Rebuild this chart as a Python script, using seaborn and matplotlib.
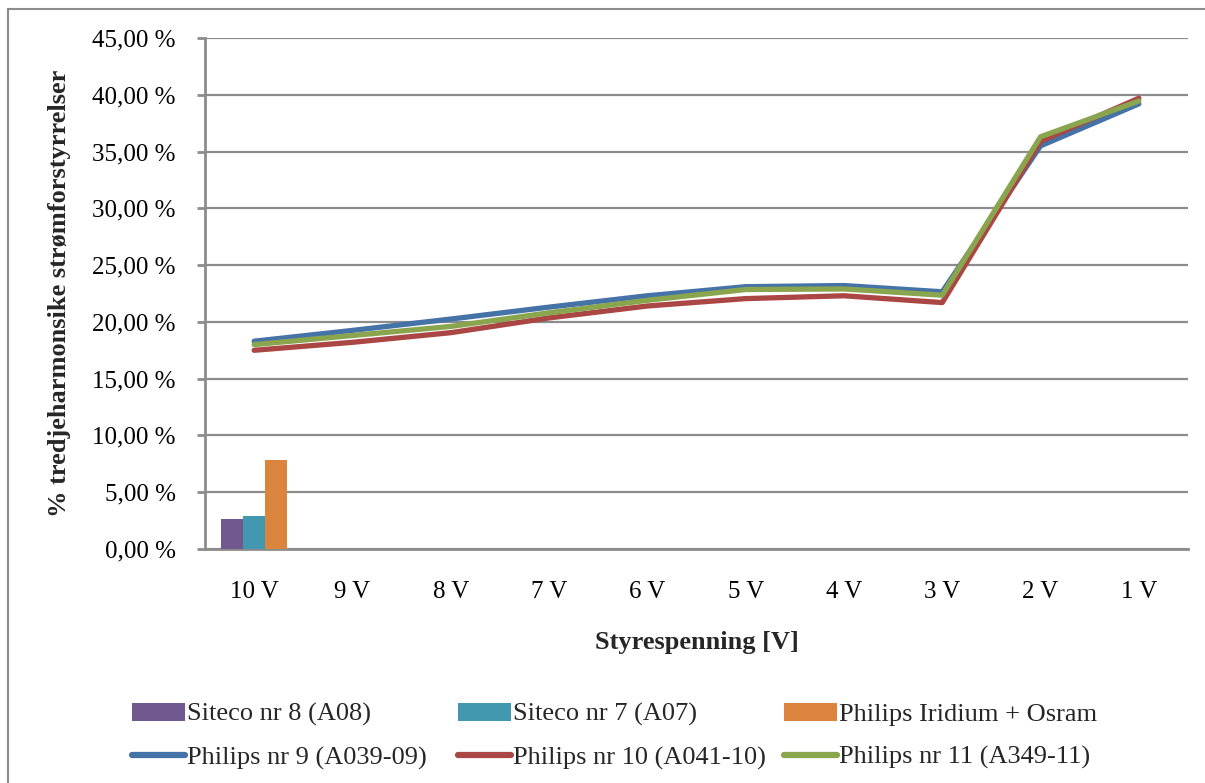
import numpy as np
import pandas as pd
import matplotlib
matplotlib.use("Agg")
import matplotlib.pyplot as plt
from matplotlib.lines import Line2D
from matplotlib.patches import Rectangle
from matplotlib.ticker import FixedLocator, FuncFormatter
import seaborn as sns

# ---- data -------------------------------------------------------------
categories = ["10 V", "9 V", "8 V", "7 V", "6 V", "5 V", "4 V", "3 V", "2 V", "1 V"]

bar_series = ["Siteco nr 8 (A08)", "Siteco nr 7 (A07)", "Philips Iridium + Osram"]
bar_category = ["10 V", "10 V", "10 V"]
bar_values = [2.65, 2.9, 7.85]

philips_9 = [18.3, 19.25, 20.25, 21.3, 22.3, 23.1, 23.2, 22.65, 35.5, 39.2]
philips_10 = [17.5, 18.2, 19.05, 20.35, 21.4, 22.05, 22.3, 21.7, 35.9, 39.7]
philips_11 = [18.0, 18.8, 19.6, 20.8, 21.9, 22.85, 22.9, 22.35, 36.3, 39.45]
line_series = ["Philips nr 9 (A039-09)", "Philips nr 10 (A041-10)", "Philips nr 11 (A349-11)"]

y_ticks = [0, 5, 10, 15, 20, 25, 30, 35, 40, 45]

# ---- style ------------------------------------------------------------
sns.set_theme(style="white")
plt.rcParams["font.family"] = ["Liberation Serif", "DejaVu Serif"]
plt.rcParams["font.size"] = 18

TICK_FS = 18
TEXT_FS = 19

bar_colors = ["#71588F", "#4198AF", "#DB843D"]
line_colors = ["#4572A7", "#AA4643", "#89A54E"]
grid_color = "#8C8C8C"

W, H = 1205, 783
fig = plt.figure(figsize=(W / 100, H / 100), dpi=100)
ax = fig.add_axes([205 / W, 1 - 549 / H, (1188 - 205) / W, (549 - 38) / H])

# bars
bars_df = pd.DataFrame({"cat": bar_category, "series": bar_series, "value": bar_values})
sns.barplot(data=bars_df, x="cat", y="value", hue="series", order=categories,
            hue_order=bar_series, palette=bar_colors, width=3 / 4.5,
            saturation=1, linewidth=0, ax=ax, legend=False, zorder=3)

# lines
lines_df = pd.DataFrame({
    "pos": np.tile(np.arange(len(categories)), 3),
    "series": np.repeat(line_series, len(categories)),
    "value": philips_9 + philips_10 + philips_11,
})
sns.lineplot(data=lines_df, x="pos", y="value", hue="series", hue_order=line_series,
             palette=line_colors, linewidth=3.8, ax=ax, legend=False, zorder=4)
for ln in ax.lines:
    ln.set_solid_capstyle("round")
    ln.set_solid_joinstyle("round")

# axes
ax.set_xlim(-0.5, len(categories) - 0.5)
ax.set_ylim(0, 45)
ax.yaxis.set_major_locator(FixedLocator(y_ticks))
ax.yaxis.set_major_formatter(FuncFormatter(lambda v, p: f"{v:.2f} %".replace(".", ",")))
ax.set_xticks(range(len(categories)))
ax.set_xticklabels(categories)
ax.set_xticks(np.arange(-0.5, len(categories)), minor=True)
ax.tick_params(axis="x", which="major", length=0, pad=23, labelsize=TICK_FS, colors="black")
ax.tick_params(axis="x", which="minor", length=6, width=2, color=grid_color, direction="out")
ax.tick_params(axis="y", length=6, width=2, color=grid_color, pad=15, labelsize=TICK_FS,
               colors="black", left=True)
ax.grid(axis="y", color=grid_color, linewidth=1.6, zorder=0)
ax.set_axisbelow(True)
for s in ["top", "right"]:
    ax.spines[s].set_visible(False)
for s in ["left", "bottom"]:
    ax.spines[s].set_color(grid_color)
    ax.spines[s].set_linewidth(2)

ax.set_xlabel("Styrespenning [V]", fontsize=TEXT_FS, fontweight="bold", labelpad=20)
ax.set_ylabel("")
fig.text(60 / W, 1 - 293 / H, "% tredjeharmonsike strømforstyrrelser", rotation=90,
         ha="center", va="center", fontsize=TEXT_FS, fontweight="bold")

# legend: three columns, bar entry on top, line entry below
col_x = [132, 458, 784]
for i in range(3):
    handles = [
        Rectangle((0, 0), 1, 1, facecolor=bar_colors[i], edgecolor="none"),
        Line2D([], [], color=line_colors[i], linewidth=4.5, solid_capstyle="round"),
    ]
    labels = [bar_series[i], line_series[i]]
    fig.legend(handles, labels, loc="upper left",
               bbox_to_anchor=(col_x[i] / W, 1 - 703 / H), frameon=False,
               fontsize=TEXT_FS, handlelength=2.0, handleheight=0.65, handletextpad=0.08,
               labelspacing=0.74, borderpad=0, borderaxespad=0)

# chart border (left and top edges are inside the image)
fig.add_artist(Line2D([8 / W, 8 / W], [0, 1 - 9 / H], transform=fig.transFigure,
                      color=grid_color, linewidth=1.5))
fig.add_artist(Line2D([8 / W, 1], [1 - 9 / H, 1 - 9 / H], transform=fig.transFigure,
                      color=grid_color, linewidth=1.5))

fig.savefig("out.png", dpi=100, facecolor="white")
